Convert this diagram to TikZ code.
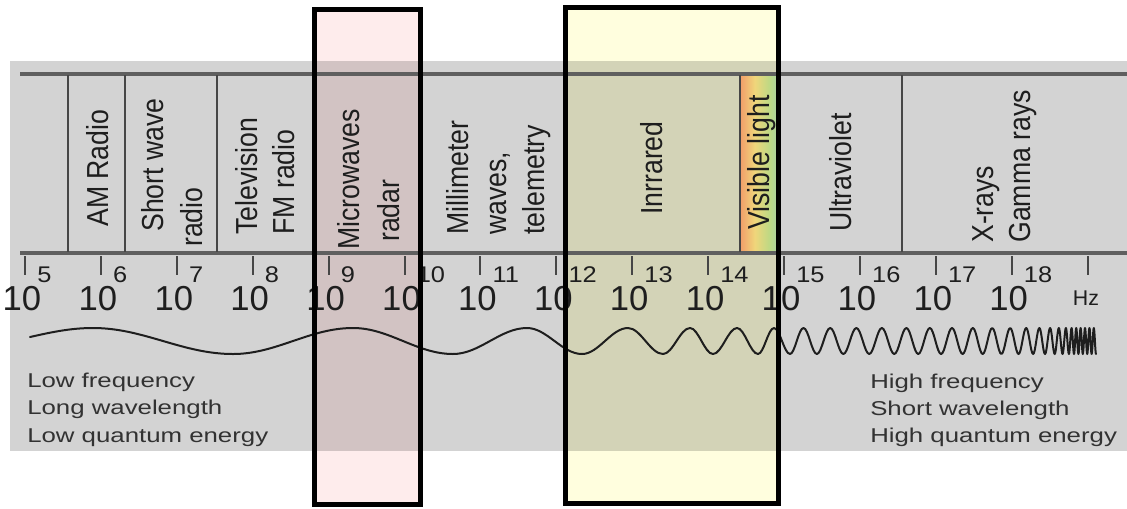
\documentclass[tikz,border=0pt]{standalone}
\usepackage{graphicx}
\usepackage{fontspec}
\setmainfont{Liberation Sans}
\definecolor{bandgray}{RGB}{211,211,211}
\definecolor{linegray}{RGB}{95,95,95}
\definecolor{divgray}{RGB}{70,70,70}
\definecolor{pinkout}{RGB}{254,236,236}
\definecolor{pinkin}{RGB}{210,195,195}
\definecolor{yelout}{RGB}{255,254,222}
\definecolor{yelin}{RGB}{211,211,183}
\definecolor{txtc}{RGB}{30,30,30}
\definecolor{lowc}{RGB}{50,50,50}
\pgfdeclarehorizontalshading{vislight}{100bp}{rgb(0bp)=(0.92,0.38,0.28); rgb(20bp)=(0.95,0.56,0.40); rgb(45bp)=(0.94,0.84,0.48); rgb(65bp)=(0.74,0.85,0.52); rgb(85bp)=(0.60,0.80,0.72); rgb(100bp)=(0.55,0.72,0.82)}
\newcommand\bandtxt[1]{\scalebox{1}[1.14]{#1}}
\newcommand\widetxt[1]{\scalebox{1.29}[1]{#1}}
\newcommand\expotxt[1]{\scalebox{1.12}[1]{#1}}
\begin{document}
\begin{tikzpicture}[x=0.75pt,y=-0.75pt,
  band/.style={rotate=90, anchor=base west, inner sep=0pt, text=txtc, font=\fontsize{20}{24}\selectfont},
  lowtxt/.style={anchor=base west, inner sep=0pt, text=lowc, font=\fontsize{15}{18}\selectfont},
  expo/.style={anchor=base west, inner sep=0pt, text=txtc, font=\fontsize{17}{19}\selectfont},
  baseten/.style={anchor=base, inner sep=0pt, text=txtc, font=\fontsize{26}{30}\selectfont},
  hzstyle/.style={anchor=base, inner sep=0pt, text=txtc, font=\fontsize{16}{18}\selectfont},
  hline/.style={draw=linegray, line width=3pt},
  divider/.style={draw=divgray, line width=1.9pt},
  tickline/.style={draw=divgray, line width=1.5pt},
  wave/.style={draw=txtc, line width=1.5pt, line join=round, line cap=round},
  frame/.style={draw=black, line width=3.75pt, line join=miter}
]
\useasboundingbox (0,0) rectangle (1127,508);
\fill[white] (0,0) rectangle (1127,508);
% gray band
\fill[bandgray] (10,61) rectangle (1127,451);
% overlay fills
\fill[pinkout] (314.5,9.5) rectangle (420.5,504.5);
\fill[pinkin] (314.5,61) rectangle (420.5,451);
\fill[yelout] (565.5,7.5) rectangle (778.5,503.5);
\fill[yelin] (565.5,61) rectangle (778.5,451);
% visible light strip
\shade[shading=vislight] (740,76) rectangle (777,252);
% band lines
\draw[hline] (20,74) -- (1127,74);
\draw[hline] (20,253) -- (1127,253);
\foreach \dx in {68,125,217,313,420,565,740,777,902}{
  \draw[divider] (\dx,75) -- (\dx,252);
}
% band labels
\node[band] (am) at (108,227) {\bandtxt{AM Radio}};
\node[band] (sw1) at (163,232) {\bandtxt{Short wave}};
\node[band] (sw2) at (202,247) {\bandtxt{radio}};
\node[band] (tv1) at (257,235) {\bandtxt{Television}};
\node[band] (tv2) at (294,235) {\bandtxt{FM radio}};
\node[band] (mw1) at (359,250) {\bandtxt{Microwaves}};
\node[band] (mw2) at (399,242) {\bandtxt{radar}};
\node[band] (mm1) at (468,235) {\bandtxt{Millimeter}};
\node[band] (mm2) at (506,235) {\bandtxt{waves,}};
\node[band] (mm3) at (544,235) {\bandtxt{telemetry}};
\node[band] (ir) at (662,215) {\bandtxt{Inrrared}};
\node[band] (vis) at (769,230) {\bandtxt{Visible light}};
\node[band] (uv) at (851,232) {\bandtxt{Ultraviolet}};
\node[band] (xr) at (993,243) {\bandtxt{X-rays}};
\node[band] (gr) at (1030,243) {\bandtxt{Gamma rays}};
% ticks and powers of ten
\foreach \k in {0,...,14}{
  \pgfmathsetmacro\tx{25+75.9*\k}
  \draw[tickline] (\tx,256) -- (\tx,275);
}
\foreach \k in {0,...,13}{
  \pgfmathsetmacro\tx{25+75.9*\k}
  \pgfmathtruncatemacro\ex{\k+5}
  \node[baseten] (b\k) at (\tx-3,310) {10};
  \node[expo] (e\k) at (\tx+12,282) {\expotxt{\ex}};
}
\node[hzstyle] (hz) at (1086,305) {Hz};
% wave
\def\wx{790}\def\wsg{-1}\def\densewave{}
\loop
  \pgfmathsetmacro\hp{max(2.2,13.5-0.88*((\wx-770)/100)^2-0.05*max(0,\wx-1010))}
  \pgfmathsetmacro\wm{\wx+\hp/2}
  \pgfmathsetmacro\wn{\wx+\hp}
  \pgfmathsetmacro\wyn{341+13*\wsg}
  \edef\densewave{\densewave cos (\wm,341) sin (\wn,\wyn)}
  \let\wx\wn
  \pgfmathsetmacro\wsg{0-\wsg}
\ifdim\wx pt<1096pt
\repeat
\draw[wave] (30,337) sin (93,328) cos (163,341) sin (233,354) cos (293,341) sin (353,328)
  cos (403,341) sin (453,354) cos (490,341) sin (527,328) cos (554.5,341) sin (582,354)
  cos (605,341) sin (628,328) cos (645.5,341) sin (663,354) cos (676.5,341) sin (690,328)
  cos (701.5,341) sin (713,354) cos (725,341) sin (737,328) cos (747.5,341) sin (758,354)
  cos (766,341) sin (774,328) cos (782,341) sin (790,354) \densewave;
% bottom texts
\node[lowtxt] (lf) at (27,387) {\widetxt{Low frequency}};
\node[lowtxt] (lw) at (27,414) {\widetxt{Long wavelength}};
\node[lowtxt] (lq) at (27,442) {\widetxt{Low quantum energy}};
\node[lowtxt] (hf) at (870,388) {\widetxt{High frequency}};
\node[lowtxt] (sw) at (870,415) {\widetxt{Short wavelength}};
\node[lowtxt] (hq) at (870,442) {\widetxt{High quantum energy}};
% highlight frames
\draw[frame] (314.5,9.5) rectangle (420.5,504.5);
\draw[frame] (565.5,7.5) rectangle (778.5,503.5);
\end{tikzpicture}
\end{document}
